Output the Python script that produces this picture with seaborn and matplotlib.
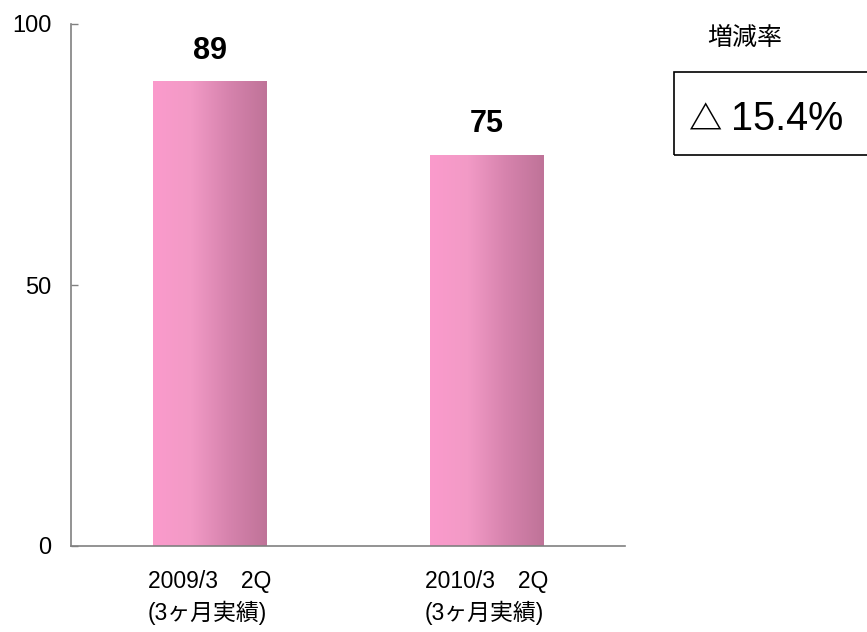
import numpy as np
import pandas as pd
import matplotlib
matplotlib.use("Agg")
import matplotlib.pyplot as plt
from matplotlib.colors import LinearSegmentedColormap
from matplotlib.patches import Rectangle
import seaborn as sns

# Data
periods = ["2009/3\u30002Q\n(3ヶ月実績)", "2010/3\u30002Q\n(3ヶ月実績)"]
values = [89, 75]
yticks = [0, 50, 100]
change_title = "増減率"
change_mark = "△"
change_value = "15.4%"

sns.set_style("ticks")
plt.rcParams["font.family"] = ["Liberation Sans", "Noto Sans CJK JP", "DejaVu Sans"]
plt.rcParams["text.color"] = "black"

fig = plt.figure(figsize=(8.67, 6.32), dpi=100)
ax = fig.add_axes([71 / 867, 86 / 632, (625 - 71) / 867, (546 - 24) / 632])

df = pd.DataFrame({"period": periods, "value": values})
sns.barplot(data=df, x="period", y="value", ax=ax, width=0.41,
            color="#e08ab4", saturation=1, zorder=2)

ax.set_xlim(-0.5, 1.5)
ax.set_ylim(0, 100)
ax.set_yticks(yticks)
ax.set_xlabel("")
ax.set_ylabel("")

# horizontal pink gradient in each bar
grad = LinearSegmentedColormap.from_list("pinkgrad", ["#fb9bcc", "#f29ac6", "#d683ad", "#bf7398"])
gimg = np.linspace(0, 1, 256).reshape(1, -1)
for p in ax.patches:
    x0, y0 = p.get_x(), p.get_y()
    w, h = p.get_width(), p.get_height()
    im = ax.imshow(gimg, cmap=grad, aspect="auto", extent=[x0, x0 + w, y0, y0 + h],
                   zorder=2, interpolation="bilinear")
    im.set_clip_path(p)
    p.set_facecolor("none")
    p.set_edgecolor("none")
ax.set_xlim(-0.5, 1.5)
ax.set_ylim(0, 100)

# value labels
for p, v in zip(ax.patches, values):
    ax.annotate(f"{v}", (p.get_x() + p.get_width() / 2, v), xytext=(0, 11),
                textcoords="offset points", ha="center", va="bottom",
                fontsize=22, fontweight="bold", color="black")

sns.despine(ax=ax)
for s in ("left", "bottom"):
    ax.spines[s].set_color("#808080")
    ax.spines[s].set_linewidth(1.2)
    ax.spines[s].set_zorder(3)

ax.tick_params(axis="y", direction="in", length=5, width=1, color="#808080",
               labelsize=17, pad=14, labelcolor="black")
ax.tick_params(axis="x", length=0, labelsize=16.5, pad=17, labelcolor="black")
for lab in ax.get_xticklabels():
    lab.set_linespacing(1.4)
    lab.set_multialignment("left")

# change-rate panel
fig.text(745 / 867, 1 - 38 / 632, change_title, ha="center", va="center", fontsize=18)
fig.patches.append(Rectangle((674 / 867, 1 - 155 / 632), 0.3, 83 / 632,
                             transform=fig.transFigure, fill=False,
                             edgecolor="black", linewidth=1.2))
fig.text(689 / 867, 1 - 131 / 632, change_mark, ha="left", va="baseline", fontsize=24,
         fontweight="bold", family=["Noto Sans CJK JP", "DejaVu Sans"])
fig.text(731 / 867, 1 - 130 / 632, change_value, ha="left", va="baseline", fontsize=28.5)

fig.savefig("out.png", dpi=100)
